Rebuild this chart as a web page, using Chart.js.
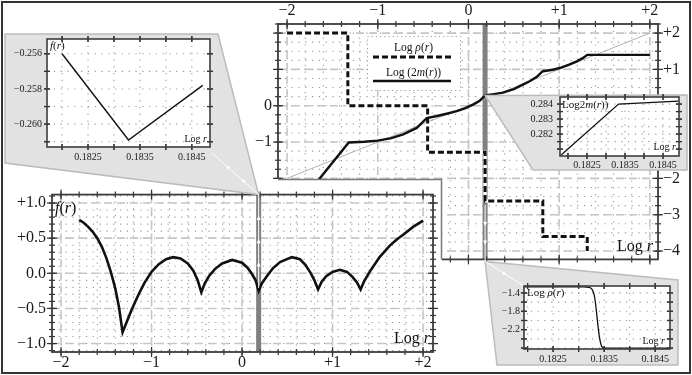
<!DOCTYPE html>
<html>
<head>
<meta charset="utf-8">
<script src="https://cdn.jsdelivr.net/npm/chart.js@4/dist/chart.umd.min.js"></script>
<style>
html, body { margin: 0; padding: 0; background: #fff; }
#wrap { position: relative; width: 692px; height: 375px; overflow: hidden; background: #fff; }
#wrap canvas { position: absolute; }
#frame { position: absolute; left: 1px; top: 1px; width: 690px; height: 373px; box-sizing: border-box; border: 2px solid #333; pointer-events: none; }
</style>
</head>
<body>
<div id="wrap">
  <canvas id="mainChart" style="left:250px;top:0" width="440" height="275"></canvas>
  <canvas id="fChart" style="left:0;top:179px" width="442" height="194"></canvas>
  <canvas id="deco" style="left:0;top:0" width="692" height="375"></canvas>
  <canvas id="zoomF" style="left:0;top:28px" width="220" height="140"></canvas>
  <canvas id="zoomM" style="left:525px;top:84px" width="165" height="90"></canvas>
  <canvas id="zoomRho" style="left:480px;top:276px" width="200" height="92"></canvas>
  <div id="frame"></div>
</div>
<script>
// ---- datos ----
const bandLogR = 0.1835;

// f(r) en el panel inferior
const fLogR = [-1.80, -1.75, -1.70, -1.65, -1.60, -1.55, -1.50, -1.45, -1.40, -1.36, -1.32,
  -1.28, -1.22, -1.15, -1.08, -1.00, -0.92, -0.84, -0.76, -0.68, -0.60, -0.54, -0.49, -0.45,
  -0.41, -0.36, -0.30, -0.22, -0.11, 0.00, 0.06, 0.11, 0.15, 0.1835,
  0.22, 0.28, 0.34, 0.42, 0.55, 0.64, 0.70, 0.76, 0.80, 0.84,
  0.88, 0.93, 1.00, 1.08, 1.16, 1.22, 1.27, 1.31,
  1.35, 1.41, 1.52, 1.63, 1.71, 1.78, 1.89, 2.00];
const fVal = [0.76, 0.72, 0.66, 0.59, 0.50, 0.38, 0.22, 0.02, -0.22, -0.48, -0.84,
  -0.71, -0.52, -0.32, -0.14, 0.02, 0.13, 0.20, 0.23, 0.21, 0.14, 0.04, -0.10, -0.27,
  -0.14, -0.03, 0.06, 0.14, 0.19, 0.15, 0.08, -0.01, -0.10, -0.25,
  -0.14, -0.03, 0.07, 0.16, 0.23, 0.20, 0.12, 0.00, -0.10, -0.23,
  -0.12, -0.04, 0.02, 0.05, 0.02, -0.05, -0.13, -0.23,
  -0.11, 0.02, 0.23, 0.39, 0.48, 0.55, 0.66, 0.75];

// Log rho(r), escalones
const rhoLogR = [-2.0, -1.33, -0.45, 0.1835, 0.82, 1.31];
const rhoVal = [2.0, 0.0, -1.28, -2.62, -3.6, -4.0];

// Log (2m(r))
const mLogR = [-1.75, -1.64, -1.32, -1.15, -1.00, -0.85, -0.72, -0.57, -0.46,
  -0.36, -0.24, -0.13, -0.04, 0.05, 0.12, 0.1835,
  0.28, 0.38, 0.50, 0.60, 0.68, 0.75, 0.82,
  0.93, 1.02, 1.11, 1.20, 1.26, 1.31, 2.00];
const mVal = [-2.45, -2.00, -1.01, -0.99, -0.96, -0.89, -0.79, -0.61, -0.34,
  -0.29, -0.22, -0.15, -0.07, 0.03, 0.13, 0.284,
  0.32, 0.36, 0.46, 0.58, 0.68, 0.79, 0.95,
  0.99, 1.05, 1.13, 1.23, 1.31, 1.40, 1.40];

const diagLogR = [-2, 2];
const diagVal = [-2, 2];

// ampliaciones alrededor de Log r = 0.1835
const zfLogR = [0.18200, 0.18328, 0.18471];
const zfVal = [-0.2560, -0.2609, -0.2578];
const zmLogR = [0.18182, 0.18333, 0.18490];
const zmVal = [0.28060, 0.28400, 0.28420];
const zrLogR = [0.18193, 0.18310, 0.18320, 0.18326, 0.18330, 0.18333, 0.18336, 0.18339, 0.18342, 0.18345, 0.18350, 0.18479];
const zrVal = [-1.27, -1.27, -1.28, -1.32, -1.42, -1.62, -1.92, -2.22, -2.44, -2.56, -2.60, -2.60];

// ejes
const logRTicks = [-2, -1, 0, 1, 2];
const logRLabels = ['−2', '−1', '0', '+1', '+2'];
const rhoTicks = [2, 1, 0, -1, -2, -3, -4];
const rhoLabels = ['+2', '+1', '0', '−1', '−2', '−3', '−4'];
const rhoLeftTicks = [0, -1];
const rhoLeftLabels = ['0', '−1'];
const fTicks = [1, 0.5, 0, -0.5, -1];
const fLabels = ['+1.0', '+0.5', '0.0', '−0.5', '−1.0'];
const zoomTicks = [0.1825, 0.1835, 0.1845];
const zoomLabels = ['0.1825', '0.1835', '0.1845'];
const zfTicks = [-0.256, -0.258, -0.260];
const zfLabels = ['−0.256', '−0.258', '−0.260'];
const zmTicks = [0.284, 0.283, 0.282];
const zmLabels = ['0.284', '0.283', '0.282'];
const zrTicks = [-1.4, -1.8, -2.2];
const zrLabels = ['−1.4', '−1.8', '−2.2'];

const mainXRange = [-2.1, 2.09], mainYRange = [-4.23, 2.25];
const fXRange = [-2.1, 2.11], fYRange = [-1.12, 1.12];
const zfXRange = [0.18171, 0.18485], zfYRange = [-0.2613, -0.25516];
const zmXRange = [0.18179, 0.18492], zmYRange = [0.28054, 0.28447];
const zrXRange = [0.18193, 0.18479], zrYRange = [-2.62, -1.25];

const SERIF = "'Liberation Serif', 'DejaVu Serif', serif";
const decor = {};

function pts(xs, ys) { return xs.map((v, i) => ({ x: v, y: ys[i] })); }

function stepPx(scale, step) {
    const out = [];
    const i0 = Math.ceil(scale.min / step - 1e-6), i1 = Math.floor(scale.max / step + 1e-6);
    for (let i = i0; i <= i1; i++) out.push(scale.getPixelForValue(i * step));
    return out;
}

function seg(ctx, x1, y1, x2, y2) {
    ctx.beginPath(); ctx.moveTo(x1, y1); ctx.lineTo(x2, y2); ctx.stroke();
}

// texto con partes en cursiva (estilo LaTeX)
function drawRich(ctx, parts, x, y, size, align) {
    const fonts = parts.map(p => (p[1] ? 'italic ' : '') + size + 'px ' + SERIF);
    let w = 0;
    parts.forEach((p, i) => { ctx.font = fonts[i]; w += ctx.measureText(p[0]).width; });
    let cx = align === 'right' ? x - w : align === 'center' ? x - w / 2 : x;
    ctx.textAlign = 'left'; ctx.textBaseline = 'alphabetic'; ctx.fillStyle = '#111';
    parts.forEach((p, i) => { ctx.font = fonts[i]; ctx.fillText(p[0], cx, y); cx += ctx.measureText(p[0]).width; });
}

// rejilla, banda, marco y marcas de los ejes
const texPlot = {
    id: 'texPlot',
    beforeDraw(chart) {
        const o = decor[chart.canvas.id];
        if (o.panel) {
            const c = chart.ctx;
            c.save(); c.fillStyle = '#fff'; c.fillRect(0, 0, chart.width, chart.height); c.restore();
        }
    },
    beforeDatasetsDraw(chart) {
        const o = decor[chart.canvas.id];
        const ctx = chart.ctx, a = chart.chartArea, x = chart.scales.x, y = chart.scales.y;
        ctx.save();
        ctx.fillStyle = '#fff'; ctx.fillRect(a.left, a.top, a.right - a.left, a.bottom - a.top);
        ctx.beginPath(); ctx.rect(a.left, a.top, a.right - a.left, a.bottom - a.top); ctx.clip();
        ctx.strokeStyle = '#9a9a9a'; ctx.lineWidth = 1.1; ctx.setLineDash([1.2, 5.6]);
        stepPx(x, o.xMinor).forEach(p => seg(ctx, p, a.top, p, a.bottom));
        stepPx(y, o.yMinor).forEach(p => seg(ctx, a.left, p, a.right, p));
        if (o.dashed) {
            ctx.strokeStyle = '#c6c6c6'; ctx.lineWidth = 1.6; ctx.setLineDash([8, 5]);
            stepPx(x, o.xMajor).forEach(p => seg(ctx, p, a.top, p, a.bottom));
            stepPx(y, o.yMajor).forEach(p => seg(ctx, a.left, p, a.right, p));
        }
        ctx.setLineDash([]);
        if (o.band != null) {
            const p = x.getPixelForValue(o.band);
            ctx.strokeStyle = '#808080'; ctx.lineWidth = 5;
            seg(ctx, p, a.top, p, a.bottom);
        }
        if (o.legend) {
            const L = o.legend, b = L.box;
            ctx.fillStyle = '#fff'; ctx.fillRect(b[0], b[1], b[2] - b[0], b[3] - b[1]);
            ctx.strokeStyle = '#999'; ctx.lineWidth = 1; ctx.setLineDash([1.2, 3]);
            ctx.strokeRect(b[0] + 0.5, b[1] + 0.5, b[2] - b[0], b[3] - b[1]);
            L.rows.forEach(r => {
                const ds = chart.data.datasets[r.ds];
                drawRich(ctx, r.parts, (b[0] + b[2]) / 2, r.base, 11.5, 'center');
                ctx.strokeStyle = ds.borderColor; ctx.lineWidth = ds.borderWidth;
                ctx.setLineDash(ds.borderDash || []);
                seg(ctx, b[0] + 6, r.lineY, b[2] - 9, r.lineY);
                ctx.setLineDash([]);
            });
        }
        ctx.restore();
    },
    afterDatasetsDraw(chart) {
        const o = decor[chart.canvas.id];
        const ctx = chart.ctx, a = chart.chartArea, x = chart.scales.x, y = chart.scales.y;
        ctx.save();
        ctx.strokeStyle = '#333'; ctx.lineWidth = 1.2;
        [[o.xMinor, o.minLen], [o.xMajor, o.majLen]].forEach(([st, len]) => {
            stepPx(x, st).forEach(p => {
                seg(ctx, p, a.bottom - len, p, a.bottom + len);
                seg(ctx, p, a.top - len, p, a.top + len);
            });
        });
        [[o.yMinor, o.minLen], [o.yMajor, o.majLen]].forEach(([st, len]) => {
            stepPx(y, st).forEach(p => {
                seg(ctx, a.left - len, p, a.left + len, p);
                seg(ctx, a.right - len, p, a.right + len, p);
            });
        });
        ctx.strokeStyle = '#3c3c3c'; ctx.lineWidth = o.frame;
        ctx.strokeRect(a.left, a.top, a.right - a.left, a.bottom - a.top);
        (o.texts || []).forEach(t => {
            if (t.from === 'tl') drawRich(ctx, t.parts, a.left + t.dx, a.top + t.dy, t.size, 'left');
            else drawRich(ctx, t.parts, a.right - t.dx, a.bottom - t.dy, t.size, 'right');
        });
        ctx.restore();
    }
};

function axis(pos, range, vals, labels, size, pad, fs) {
    return {
        type: 'linear', position: pos, axis: (pos === 'top' || pos === 'bottom') ? 'x' : 'y',
        min: range[0], max: range[1],
        grid: { display: false, drawTicks: false }, border: { display: false },
        afterBuildTicks: s => { s.ticks = vals.map(v => ({ value: v })); },
        afterFit: s => { if (s.isHorizontal()) s.height = size; else s.width = size; },
        ticks: {
            display: labels.length > 0, padding: pad, maxRotation: 0, minRotation: 0, autoSkip: false,
            color: '#1a1a1a', font: { family: SERIF, size: fs },
            callback: v => { const i = vals.indexOf(v); return i < 0 ? '' : (labels[i] || ''); }
        }
    };
}

function makeChart(id, datasets, scales, cfg) {
    decor[id] = cfg;
    return new Chart(document.getElementById(id), {
        type: 'line',
        data: { datasets },
        options: {
            responsive: false, animation: false, devicePixelRatio: 1,
            layout: { padding: 0, autoPadding: false },
            plugins: { legend: { display: false }, tooltip: { enabled: false } },
            elements: { point: { radius: 0 }, line: { tension: 0 } },
            scales
        },
        plugins: [texPlot]
    });
}

const LOGR = [['Log ', false], ['r', true]];

// ---- grafico principal: Log rho y Log 2m ----
const mainChart = makeChart('mainChart', [
    { data: pts(diagLogR, diagVal), borderColor: '#a0a0a0', borderWidth: 0.8, order: 4 },
    { data: pts(rhoLogR, rhoVal), borderColor: '#fff', borderWidth: 3.4, stepped: 'before', order: 3 },
    { data: pts(rhoLogR, rhoVal), borderColor: '#111', borderWidth: 3, borderDash: [6, 3], stepped: 'before', order: 2 },
    { data: pts(mLogR, mVal), borderColor: '#111', borderWidth: 2.4, order: 1 }
], {
    x: axis('bottom', mainXRange, logRTicks, [], 15, 0, 16),
    xTop: axis('top', mainXRange, logRTicks, logRLabels, 24, 4, 16),
    y: axis('left', mainYRange, rhoLeftTicks, rhoLeftLabels, 28, 6, 16),
    yRight: axis('right', mainYRange, rhoTicks, rhoLabels, 32, 5, 16)
}, {
    xMinor: 0.2, xMajor: 1, yMinor: 0.25, yMajor: 1, dashed: true, band: bandLogR,
    majLen: 5, minLen: 3, frame: 1.8,
    texts: [{ from: 'br', parts: LOGR, dx: 5, dy: 8, size: 16 }],
    legend: {
        box: [117, 36, 210, 90],
        rows: [
            { ds: 2, base: 51, lineY: 57, parts: [['Log ', false], ['ρ', true], ['(', false], ['r', true], [')', false]] },
            { ds: 3, base: 76, lineY: 81, parts: [['Log (2', false], ['m', true], ['(', false], ['r', true], ['))', false]] }
        ]
    }
});

// ---- panel inferior: f(r) ----
const fChart = makeChart('fChart', [
    { data: pts(fLogR, fVal), borderColor: '#111', borderWidth: 2.6 }
], {
    x: axis('bottom', fXRange, logRTicks, logRLabels, 21, 1, 16),
    xTop: axis('top', fXRange, logRTicks, [], 8, 0, 16),
    y: axis('left', fYRange, fTicks, fLabels, 52, 6, 16),
    yRight: axis('right', fYRange, fTicks, [], 9, 0, 16)
}, {
    panel: true, xMinor: 0.2, xMajor: 1, yMinor: 0.1, yMajor: 0.5, dashed: true, band: bandLogR,
    majLen: 5, minLen: 3, frame: 1.8,
    texts: [
        { from: 'tl', parts: [['f', true], ['(', false], ['r', true], [')', false]], dx: 3, dy: 18, size: 16 },
        { from: 'br', parts: LOGR, dx: 3, dy: 9, size: 16 }
    ]
});

// ---- ampliaciones ----
const zoomF = makeChart('zoomF', [
    { data: pts(zfLogR, zfVal), borderColor: '#111', borderWidth: 1.4 }
], {
    x: axis('bottom', zfXRange, zoomTicks, zoomLabels, 21, 4, 10),
    xTop: axis('top', zfXRange, zoomTicks, [], 10, 0, 10),
    y: axis('left', zfYRange, zfTicks, zfLabels, 47, 5, 10),
    yRight: axis('right', zfYRange, zfTicks, [], 10, 0, 10)
}, {
    xMinor: 0.0005, xMajor: 0.0005, yMinor: 0.001, yMajor: 0.001,
    majLen: 3, minLen: 3, frame: 1.6,
    texts: [
        { from: 'tl', parts: [['f', true], ['(', false], ['r', true], [')', false]], dx: 3, dy: 10, size: 11 },
        { from: 'br', parts: LOGR, dx: 3, dy: 5, size: 10 }
    ]
});

const zoomM = makeChart('zoomM', [
    { data: pts(zmLogR, zmVal), borderColor: '#111', borderWidth: 1.3 }
], {
    x: axis('bottom', zmXRange, zoomTicks, zoomLabels, 18, 3, 10),
    xTop: axis('top', zmXRange, zoomTicks, [], 6, 0, 10),
    y: axis('left', zmYRange, zmTicks, zmLabels, 35, 7, 10),
    yRight: axis('right', zmYRange, zmTicks, [], 11, 0, 10)
}, {
    xMinor: 0.0005, xMajor: 0.0005, yMinor: 0.0005, yMajor: 0.0005,
    majLen: 3, minLen: 3, frame: 1.6,
    texts: [
        { from: 'tl', parts: [['Log2', false], ['m', true], ['(', false], ['r', true], ['))', false]], dx: 2, dy: 11, size: 11 },
        { from: 'br', parts: LOGR, dx: 3, dy: 6, size: 10 }
    ]
});

const zoomRho = makeChart('zoomRho', [
    { data: pts(zrLogR, zrVal), borderColor: '#111', borderWidth: 1.3, cubicInterpolationMode: 'monotone' }
], {
    x: axis('bottom', zrXRange, zoomTicks, zoomLabels, 19, 4, 10),
    xTop: axis('top', zrXRange, zoomTicks, [], 8, 0, 10),
    y: axis('left', zrYRange, zrTicks, zrLabels, 44, 4, 10),
    yRight: axis('right', zrYRange, zrTicks, [], 10, 0, 10)
}, {
    xMinor: 0.0005, xMajor: 0.0005, yMinor: 0.2, yMajor: 0.2,
    majLen: 3, minLen: 3, frame: 1.6,
    texts: [
        { from: 'tl', parts: [['Log ', false], ['ρ', true], ['(', false], ['r', true], [')', false]], dx: 3, dy: 10, size: 11 },
        { from: 'br', parts: LOGR, dx: 5, dy: 5, size: 10 }
    ]
});

// ---- conos de ampliacion y flechas ----
function pageX(ch, v) { return ch.canvas.offsetLeft + ch.scales.x.getPixelForValue(v); }
function pageY(ch, v) { return ch.canvas.offsetTop + ch.scales.y.getPixelForValue(v); }
function pageArea(ch) {
    const a = ch.chartArea, l = ch.canvas.offsetLeft, t = ch.canvas.offsetTop;
    return { left: a.left + l, right: a.right + l, top: a.top + t, bottom: a.bottom + t };
}

function poly(ctx, p) {
    ctx.beginPath();
    p.forEach((q, i) => i ? ctx.lineTo(q[0], q[1]) : ctx.moveTo(q[0], q[1]));
    ctx.closePath();
    ctx.fillStyle = '#e2e2e2'; ctx.fill();
    ctx.strokeStyle = '#bcbcbc'; ctx.lineWidth = 1.5; ctx.stroke();
}

function whiteArrows(ctx, p) {
    ctx.strokeStyle = '#fff'; ctx.fillStyle = '#fff'; ctx.lineWidth = 1;
    ctx.beginPath();
    p.forEach((q, i) => i ? ctx.lineTo(q[0], q[1]) : ctx.moveTo(q[0], q[1]));
    ctx.stroke();
    for (let i = 1; i < p.length; i++) {
        const [x1, y1] = p[i - 1], [x2, y2] = p[i];
        const len = Math.hypot(x2 - x1, y2 - y1), ang = Math.atan2(y2 - y1, x2 - x1);
        const n = Math.max(1, Math.floor(len / 24));
        for (let k = 1; k <= n; k++) {
            const t = k / (n + 1);
            ctx.save();
            ctx.translate(x1 + (x2 - x1) * t, y1 + (y2 - y1) * t);
            ctx.rotate(ang);
            ctx.beginPath(); ctx.moveTo(2.5, 0); ctx.lineTo(-2, -2); ctx.lineTo(-2, 2); ctx.closePath(); ctx.fill();
            ctx.restore();
        }
    }
}

function dibujarDeco() {
    const ctx = document.getElementById('deco').getContext('2d');
    const mA = pageArea(mainChart), fA = pageArea(fChart);
    const zfA = pageArea(zoomF), zmA = pageArea(zoomM), zrA = pageArea(zoomRho);

    // borde del panel inferior sobre el grafico principal
    const fTop = fChart.canvas.offsetTop + 0.5, fRight = fChart.canvas.offsetLeft + fChart.width - 0.5;
    ctx.strokeStyle = '#7a7a7a'; ctx.lineWidth = 1.5;
    ctx.beginPath(); ctx.moveTo(mA.left, fTop); ctx.lineTo(fRight, fTop); ctx.lineTo(fRight, mA.bottom); ctx.stroke();

    // cono hacia la ampliacion de f(r)
    const bx = pageX(fChart, bandLogR);
    poly(ctx, [[zfA.left - 42, zfA.top - 5], [zfA.right + 8, zfA.top - 5], [bx, fA.top], [zfA.left - 42, zfA.bottom + 16]]);
    const fCusp = fVal[fLogR.indexOf(bandLogR)];
    whiteArrows(ctx, [[bx, pageY(fChart, fCusp) - 3], [bx, fA.top], [zfA.right + 2, zfA.bottom + 6]]);

    // cono hacia la ampliacion de Log 2m
    const mx = pageX(mainChart, bandLogR);
    const mAt = mVal[mLogR.indexOf(bandLogR)];
    poly(ctx, [[mx, pageY(mainChart, mAt)], [zmA.right + 8, zmA.top - 2], [zmA.right + 8, zmA.bottom + 14], [zmA.left - 27, zmA.bottom + 14]]);

    // cono hacia la ampliacion de Log rho
    poly(ctx, [[mx, mA.bottom + 2], [zrA.right + 8, zrA.top - 6], [zrA.right + 8, zrA.bottom + 16], [zrA.left - 27, zrA.bottom + 16]]);
    const rAt = rhoVal[rhoLogR.indexOf(bandLogR)];
    whiteArrows(ctx, [[mx, pageY(mainChart, rAt) + 4], [mx, mA.bottom + 2], [zrA.left, zrA.top]]);
}

dibujarDeco();
</script>
</body>
</html>
